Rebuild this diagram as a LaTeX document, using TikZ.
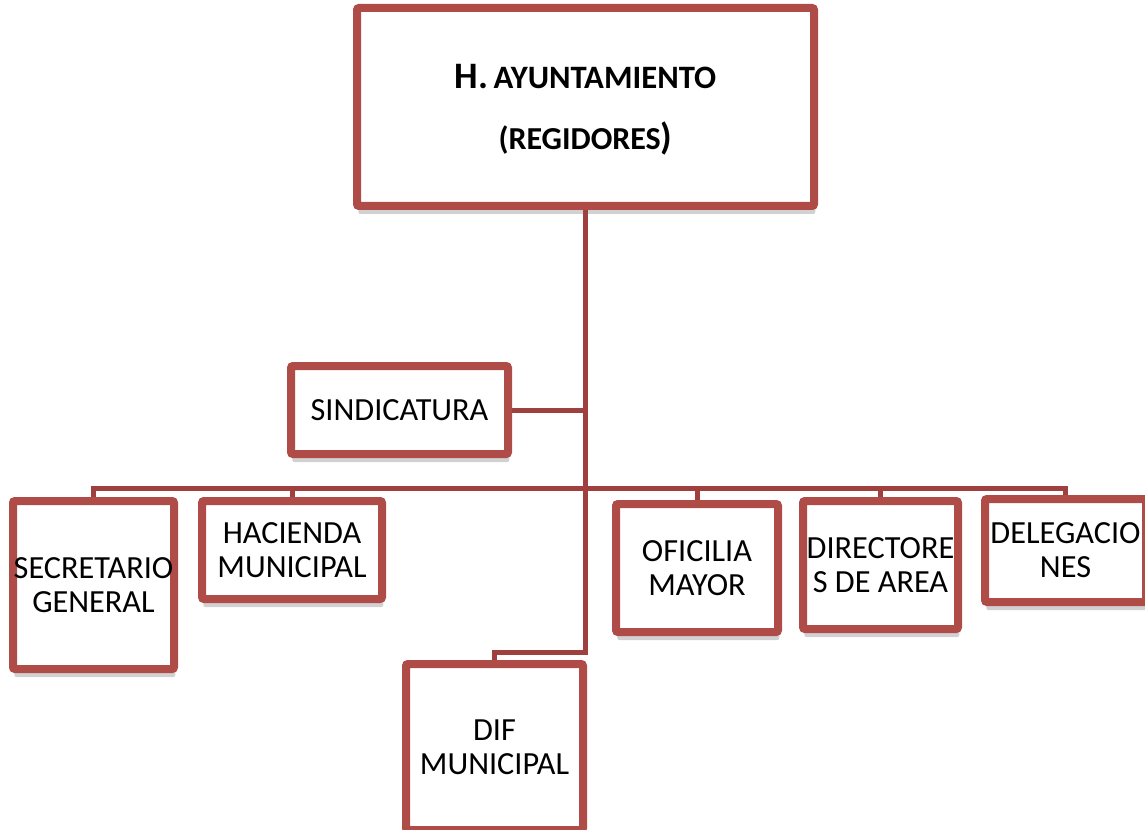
\documentclass[tikz,border=0pt]{standalone}
\usepackage{fontspec}
\setmainfont{Carlito}
\usetikzlibrary{shadows}
\definecolor{rojoborde}{RGB}{176,76,72}
\definecolor{rojolinea}{RGB}{160,64,62}
\tikzset{
	caja/.style={draw=rojoborde, line width=6pt, fill=white, rounded corners=1.5pt, inner sep=0pt, align=center, font=\fontsize{24.2}{25.5}\selectfont, drop shadow={shadow xshift=1pt, shadow yshift=-6pt, opacity=0.18, fill=black}},
	linea/.style={draw=rojolinea, line width=3.75pt}
}

\begin{document}
\begin{tikzpicture}[x=0.75pt, y=-0.75pt]
		%%%%% START %%%%%
		
		\useasboundingbox (0, 0) rectangle (1145, 830);
		\clip (0, 0) rectangle (1145, 830);
		
		\node[caja, minimum width=342.75pt, minimum height=148.5pt, font=\bfseries] (ayto) at (585.5, 107) {};
		\node[font=\bfseries, align=center, inner sep=0pt] (aytotxt) at (585.5, 110) {{\fontsize{28}{28}\selectfont H.}\, {\fontsize{24.5}{28}\selectfont AYUNTAMIENTO}\\[23.5pt]{\fontsize{24}{28}\selectfont (REGIDORES}{\fontsize{28}{28}\selectfont )}};
		
		\node[caja, minimum width=162.75pt, minimum height=66pt] (sin) at (399.5, 410) {SINDICATURA};
		
		\node[caja, minimum width=120.75pt, minimum height=126pt] (sec) at (93.5, 585) {SECRETARIO\\GENERAL};
		\node[caja, minimum width=135pt, minimum height=73.5pt] (hac) at (292, 550) {HACIENDA\\MUNICIPAL};
		\node[caja, minimum width=132.75pt, minimum height=124.5pt] (dif) at (494.5, 747) {DIF\\MUNICIPAL};
		\node[caja, minimum width=121.5pt, minimum height=96pt] (ofi) at (697, 568) {OFICILIA\\MAYOR};
		\node[caja, minimum width=116.25pt, minimum height=96pt] (dir) at (880.5, 565) {DIRECTORE\\S DE AREA};
		\node[caja, minimum width=120.75pt, minimum height=77.25pt] (dele) at (1065.5, 550.5) {DELEGACIO\\NES};
		
		\coordinate (bus) at (585.5, 488);
		\coordinate (codo) at (585.5, 652);
		
		\draw[linea] (ayto.south) -- (codo) -| (dif.north);
		\draw[linea] (sin.east) -- (sin.east -| bus);
		
		\draw[linea] (sec.north) |- (bus) -| (dele.north);
		\draw[linea] (hac.north) -- (hac.north |- bus);
		\draw[linea] (ofi.north) -- (ofi.north |- bus);
		\draw[linea] (dir.north) -- (dir.north |- bus);
		
		%%%%% END %%%%%
	\end{tikzpicture}
\end{document}
